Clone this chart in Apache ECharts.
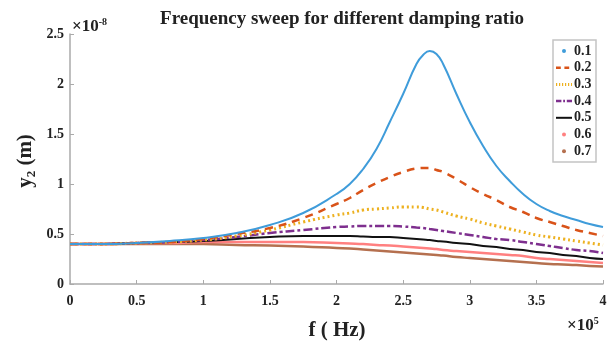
<!DOCTYPE html>
<html><head><meta charset="utf-8">
<script src="https://cdn.jsdelivr.net/npm/echarts@6/dist/echarts.min.js"></script>
<style>html,body{margin:0;padding:0;background:#fff}#c{width:611px;height:345px}</style>
</head><body><div id="c"></div>
<script>
// f in units of 1e5 Hz, y in units of 1e-8 m
const freq = [0,0.25,0.5,0.75,1,1.25,1.5,1.75,2,2.1,2.2,2.3,2.4,2.5,2.6,2.65,2.7,2.75,2.8,2.9,3,3.1,3.2,3.3,3.4,3.5,3.6,3.7,3.8,3.9,4];
const z01 = [0.40,0.40,0.41,0.43,0.46,0.51,0.59,0.71,0.90,1.00,1.15,1.35,1.62,1.90,2.20,2.29,2.33,2.30,2.20,1.90,1.62,1.38,1.18,1.03,0.90,0.80,0.73,0.68,0.64,0.60,0.57];
const z02 = [0.40,0.40,0.41,0.42,0.45,0.50,0.56,0.66,0.80,0.86,0.94,1.01,1.07,1.12,1.155,1.16,1.16,1.14,1.12,1.05,0.97,0.90,0.84,0.77,0.72,0.66,0.62,0.58,0.54,0.51,0.48];
const z03 = [0.40,0.40,0.41,0.42,0.44,0.48,0.54,0.62,0.69,0.71,0.74,0.75,0.76,0.77,0.77,0.765,0.75,0.74,0.72,0.68,0.65,0.61,0.58,0.55,0.52,0.49,0.47,0.45,0.43,0.41,0.39];
const z04 = [0.40,0.40,0.41,0.42,0.44,0.47,0.51,0.54,0.57,0.575,0.58,0.58,0.58,0.575,0.565,0.56,0.55,0.54,0.53,0.51,0.49,0.47,0.45,0.44,0.42,0.40,0.38,0.36,0.34,0.33,0.31];
const z05 = [0.40,0.40,0.41,0.42,0.43,0.45,0.47,0.48,0.48,0.48,0.475,0.47,0.47,0.46,0.45,0.445,0.44,0.43,0.425,0.41,0.40,0.38,0.37,0.35,0.34,0.32,0.31,0.29,0.28,0.26,0.25];
const z06 = [0.40,0.40,0.41,0.41,0.42,0.42,0.42,0.42,0.41,0.405,0.40,0.39,0.385,0.375,0.365,0.36,0.355,0.35,0.34,0.33,0.32,0.31,0.30,0.29,0.28,0.26,0.25,0.24,0.23,0.22,0.21];
const z07 = [0.40,0.40,0.40,0.40,0.40,0.39,0.385,0.375,0.36,0.355,0.345,0.335,0.325,0.315,0.305,0.30,0.295,0.29,0.285,0.27,0.26,0.25,0.24,0.23,0.22,0.21,0.20,0.195,0.19,0.18,0.175];
const names = ['0.1','0.2','0.3','0.4','0.5','0.6','0.7'];
const xTicks = [0,0.5,1,1.5,2,2.5,3,3.5,4];
const yTicks = [0,0.5,1,1.5,2,2.5];

const serif = 'Liberation Serif';
const allData = [z01,z02,z03,z04,z05,z06,z07];
const styles = [
  {color:'#3f9cda', type:'solid', width:2, dot:true},
  {color:'#d95319', type:[8,6], width:2.5},
  {color:'#edb120', type:[2,3], width:3},
  {color:'#7e2f8e', type:[9,3,3,3], width:2.5},
  {color:'#111111', type:'solid', width:2},
  {color:'#ff8080', type:'solid', width:2.5, dot:true},
  {color:'#b5704f', type:'solid', width:2.5, dot:true}
];
const series = allData.map((d,i)=>({
  name:names[i], type:'line', smooth:true, symbol:'none',
  data: freq.map((f,j)=>[f,d[j]]),
  lineStyle:{color:styles[i].color, type:styles[i].type, width:styles[i].width},
  itemStyle:{color:styles[i].color},
  z: 10-i
}));

// legend drawn as graphic
const legendEls = [{type:'rect', shape:{x:553, y:40, width:43, height:122},
  style:{fill:'#fff', stroke:'#c4c4c4', lineWidth:1.5}, z:100}];
names.forEach((n,i)=>{
  const cy = 51 + i*16.7;
  const s = styles[i];
  if (s.dot) {
    legendEls.push({type:'circle', shape:{cx:564, cy:cy, r:2}, style:{fill:s.color}, z:101});
  } else {
    legendEls.push({type:'line', shape:{x1:556, y1:cy, x2:572, y2:cy},
      style:{stroke:s.color, lineWidth:s.width, lineDash: Array.isArray(s.type) ? s.type.map(v=>v*0.6) : null}, z:101});
  }
  legendEls.push({type:'text', x:574, y:cy, style:{text:n, fontFamily:serif, fontWeight:'bold', fontSize:14, fill:'#222', verticalAlign:'middle'}, z:101});
});

const chart = echarts.init(document.getElementById('c'), null, {renderer:'canvas'});
chart.setOption({
  animation:false,
  backgroundColor:'#fff',
  title:{text:'Frequency sweep for different damping ratio', left:337, top:5, textAlign:'center',
    textStyle:{fontFamily:serif, fontWeight:'bold', fontSize:19, color:'#222'}},
  grid:{left:70, right:8, top:34, bottom:61},
  xAxis:{type:'value', min:0, max:4, interval:0.5,
    axisLine:{lineStyle:{color:'#aaa', width:1.5}},
    axisTick:{inside:true, length:4, lineStyle:{color:'#aaa'}},
    splitLine:{show:false},
    axisLabel:{fontFamily:serif, fontWeight:'bold', fontSize:14, color:'#222', margin:10}
  },
  yAxis:{type:'value', min:0, max:2.5, interval:0.5,
    axisLine:{show:true, lineStyle:{color:'#aaa', width:1.5}},
    axisTick:{show:true, inside:true, length:4, lineStyle:{color:'#aaa'}},
    splitLine:{show:false},
    axisLabel:{fontFamily:serif, fontWeight:'bold', fontSize:14, color:'#222', margin:6}
  },
  graphic:[
    {type:'text', left:72, top:17, style:{rich:{a:{fontFamily:serif, fontWeight:'bold', fontSize:17, fill:'#222'}, s:{fontFamily:serif, fontWeight:'bold', fontSize:10, fill:'#222', verticalAlign:'top', padding:[0,0,9,0]}}, text:'{a|×10}{s|-8}'}},
    {type:'text', left:567, top:316, style:{rich:{a:{fontFamily:serif, fontWeight:'bold', fontSize:17, fill:'#222'}, s:{fontFamily:serif, fontWeight:'bold', fontSize:10, fill:'#222', verticalAlign:'top', padding:[0,0,9,0]}}, text:'{a|×10}{s|5}'}},
    {type:'text', x:337, y:331, style:{text:'f ( Hz)', fontFamily:serif, fontWeight:'bold', fontSize:21, fill:'#222', align:'center', verticalAlign:'middle'}},
    {type:'text', x:26, y:161, rotation:Math.PI/2, style:{rich:{a:{fontFamily:serif, fontWeight:'bold', fontSize:21, fill:'#222'}, s:{fontFamily:serif, fontWeight:'bold', fontSize:13, fill:'#222', padding:[11,0,0,0]}}, text:'{a|y}{s|2}{a| (m)}', align:'center', verticalAlign:'middle'}}
  ].concat(legendEls),
  series: series
});
</script></body></html>
